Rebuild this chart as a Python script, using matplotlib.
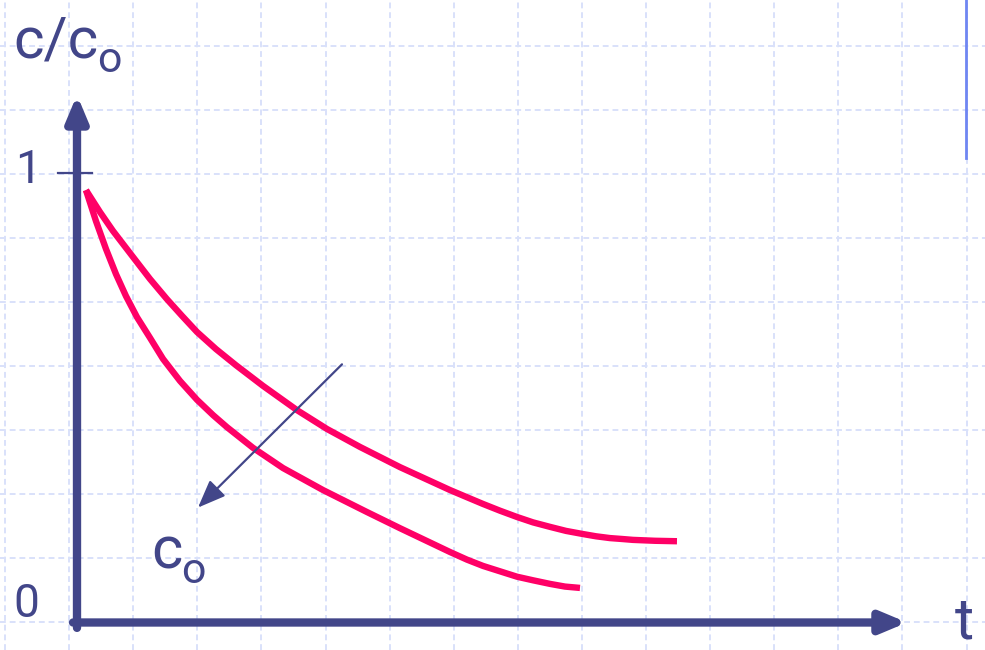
import matplotlib
matplotlib.use('Agg')
import matplotlib.pyplot as plt

plt.rcParams['font.family'] = ['Roboto', 'DejaVu Sans']

# curve values (t in grid units, c/c0)
t_upper = [0.140, 0.359, 0.562, 0.874, 1.139, 1.404, 1.638, 1.872, 2.168, 2.480,
           2.902, 3.432, 3.900, 4.415, 5.039, 5.819, 6.084, 6.334, 6.599, 6.864,
           7.114, 7.379, 7.629, 7.894, 8.097, 8.315, 8.502, 8.674, 9.017, 9.360]
c_upper = [0.963, 0.914, 0.872, 0.814, 0.765, 0.720, 0.683, 0.647, 0.609, 0.573,
           0.527, 0.473, 0.431, 0.391, 0.346, 0.295, 0.279, 0.264, 0.249, 0.235,
           0.223, 0.213, 0.204, 0.197, 0.192, 0.188, 0.186, 0.184, 0.182, 0.181]

t_lower = [0.140, 0.296, 0.452, 0.608, 0.764, 0.936, 1.139, 1.342, 1.607, 1.872,
           2.122, 2.340, 2.746, 3.214, 3.838, 4.524, 5.039, 5.819, 6.084, 6.334,
           6.599, 6.864, 7.114, 7.379, 7.613, 7.847]
c_lower = [0.963, 0.894, 0.832, 0.776, 0.727, 0.680, 0.634, 0.587, 0.538, 0.496,
           0.462, 0.435, 0.389, 0.344, 0.295, 0.246, 0.210, 0.157, 0.140, 0.126,
           0.114, 0.102, 0.094, 0.086, 0.080, 0.077]

# arrow showing increasing c0
arrow_start = (4.134, 0.575)
arrow_end = (1.888, 0.256)

navy = '#424689'
pink = '#ff0066'

fig = plt.figure(figsize=(9.85, 6.5), dpi=100)
ax = fig.add_axes([0, 0, 1, 1])
ax.set_xlim(-1.2012, 14.1654)
ax.set_ylim(-0.06125, 1.38641)
ax.axis('off')

# background grid paper
for k in range(16):
    ax.axvline(-1.123 + k, color='#d9e1fa', lw=1.4, ls=(0, (3, 2)), zorder=0)
for k in range(10):
    ax.axhline(k * 0.14254, color='#d9e1fa', lw=1.4, ls=(0, (3, 2)), zorder=0)

# blue mark top right
ax.plot([13.869, 13.869], [1.0345, 1.39], color='#6f86f2', lw=2.0, zorder=1)

# axes with arrows
head = '-|>,head_length=1.0,head_width=0.42'
ax.annotate('', xy=(0.0, 1.175), xytext=(0.0, -0.012),
            arrowprops=dict(arrowstyle=head, mutation_scale=15, lw=6, color=navy,
                            shrinkA=0, shrinkB=0), zorder=3)
ax.annotate('', xy=(12.949, 0.0), xytext=(-0.062, 0.0),
            arrowprops=dict(arrowstyle=head, mutation_scale=15, lw=6, color=navy,
                            shrinkA=0, shrinkB=0), zorder=3)
ax.plot([-0.296, 0.234], [1.0, 1.0], color=navy, lw=1.6, zorder=3)

# curves
ax.plot(t_upper, c_upper, color=pink, lw=4.6, solid_capstyle='butt',
        solid_joinstyle='round', zorder=4)
ax.plot(t_lower, c_lower, color=pink, lw=4.6, solid_capstyle='butt',
        solid_joinstyle='round', zorder=4)

ax.annotate('', xy=arrow_end, xytext=arrow_start,
            arrowprops=dict(arrowstyle='-|>,head_length=1.0,head_width=0.4',
                            mutation_scale=17, lw=1.6, color=navy,
                            shrinkA=0, shrinkB=0), zorder=5)

# labels
txt = dict(color=navy, ha='left', va='baseline')
ax.text(-1.00, 1.259, 'c/c', fontsize=42, **txt)
ax.text(0.31, 1.226, 'o', fontsize=31, **txt)
ax.text(-0.96, 0.979, '1', fontsize=33, **txt)
ax.text(-1.00, 0.012, '0', fontsize=33, **txt)
ax.text(13.70, -0.036, 't', fontsize=42, **txt)
ax.text(1.16, 0.121, 'c', fontsize=43, **txt)
ax.text(1.62, 0.088, 'o', fontsize=31, **txt)

fig.savefig('out.png', dpi=100)
